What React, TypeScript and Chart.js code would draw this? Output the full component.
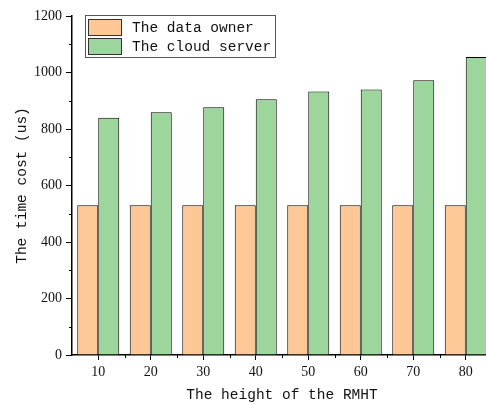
import React, { useEffect, useRef } from "react";
import { Chart, registerables } from "chart.js";

Chart.register(...registerables);

const categories = ["10", "20", "30", "40", "50", "60", "70", "80"];
const dataOwner = [530, 530, 530, 530, 530, 530, 530, 530];
const cloudServer = [840, 859, 877, 905, 933, 940, 973, 1055];
const seriesNames = ["The data owner", "The cloud server"];
const yTitle = "The time cost (us)";
const xTitle = "The height of the RMHT";

const ORANGE = "#FDC896";
const GREEN = "#9DD69D";

const extrasPlugin = {
  id: "extras",
  afterDraw(chart: any) {
    const ctx = chart.ctx;
    const x = chart.scales.x;
    const y = chart.scales.y;
    const area = chart.chartArea;
    ctx.save();
    ctx.strokeStyle = "#000";
    ctx.lineWidth = 1;
    for (let v = 100; v < 1200; v += 200) {
      const py = Math.round(y.getPixelForValue(v)) + 0.5;
      ctx.beginPath();
      ctx.moveTo(area.left - 3, py);
      ctx.lineTo(area.left, py);
      ctx.stroke();
    }
    const step = x.getPixelForValue(1) - x.getPixelForValue(0);
    for (let i = 0; i < categories.length; i++) {
      const px = Math.round(x.getPixelForValue(i) + step / 2) + 0.5;
      ctx.beginPath();
      ctx.moveTo(px, area.bottom);
      ctx.lineTo(px, area.bottom + 3);
      ctx.stroke();
    }
    ctx.strokeStyle = "#555";
    ctx.fillStyle = "#fff";
    ctx.fillRect(85.5, 15.5, 190, 42);
    ctx.strokeRect(85.5, 15.5, 190, 42);
    const colors = [ORANGE, GREEN];
    const ys = [19, 38];
    ctx.font = "14.5px 'Liberation Mono', monospace";
    ctx.textBaseline = "middle";
    ctx.textAlign = "left";
    for (let i = 0; i < 2; i++) {
      ctx.fillStyle = colors[i];
      ctx.fillRect(88.5, ys[i] + 0.5, 33, 16);
      ctx.strokeStyle = "#333";
      ctx.strokeRect(88.5, ys[i] + 0.5, 33, 16);
      ctx.fillStyle = "#111";
      ctx.fillText(seriesNames[i], 132, ys[i] + 9);
    }
    ctx.restore();
  },
};

export default function App() {
  const ref = useRef<HTMLCanvasElement | null>(null);
  useEffect(() => {
    if (!ref.current) return;
    const chart = new Chart(ref.current, {
      type: "bar",
      data: {
        labels: categories,
        datasets: [
          {
            label: seriesNames[0],
            data: dataOwner,
            backgroundColor: ORANGE,
            borderColor: "#000",
            borderWidth: 1,
            categoryPercentage: 0.8,
            barPercentage: 1.0,
          },
          {
            label: seriesNames[1],
            data: cloudServer,
            backgroundColor: GREEN,
            borderColor: "#000",
            borderWidth: 1,
            categoryPercentage: 0.8,
            barPercentage: 1.0,
          },
        ],
      },
      options: {
        responsive: false,
        animation: false,
        layout: { padding: { top: 16, right: 8, left: 0, bottom: 0 } },
        plugins: { legend: { display: false }, tooltip: { enabled: false } },
        scales: {
          x: {
            grid: {
              display: true,
              drawOnChartArea: false,
              drawTicks: true,
              tickLength: 5,
              color: "#000",
              offset: false,
            },
            border: { color: "#000", width: 1.5 },
            ticks: {
              color: "#111",
              font: { family: "'Liberation Serif', serif", size: 14 },
              padding: 4,
            },
            title: {
              display: true,
              text: xTitle,
              color: "#111",
              font: { family: "'Liberation Mono', monospace", size: 14.5 },
              padding: { top: 0, bottom: 0 },
            },
            afterFit: (s: any) => {
              s.height = 49;
            },
          },
          y: {
            min: 0,
            max: 1200,
            grid: {
              display: true,
              drawOnChartArea: false,
              drawTicks: true,
              tickLength: 6,
              color: "#000",
            },
            border: { color: "#000", width: 1.5 },
            ticks: {
              stepSize: 200,
              color: "#111",
              font: { family: "'Liberation Serif', serif", size: 14 },
              padding: 4,
              callback: (v: any) => String(v),
            },
            title: {
              display: true,
              text: yTitle,
              color: "#111",
              font: { family: "'Liberation Mono', monospace", size: 14.5 },
              padding: { top: 13, bottom: 0 },
            },
            afterFit: (s: any) => {
              s.width = 72;
            },
          },
        },
      },
      plugins: [extrasPlugin],
    });
    return () => chart.destroy();
  }, []);
  return (
    <div
      style={{
        position: "fixed",
        left: 0,
        top: 0,
        width: 486,
        height: 404,
        overflow: "hidden",
        background: "#fff",
      }}
    >
      <canvas ref={ref} width={500} height={404} style={{ display: "block" }} />
    </div>
  );
}
